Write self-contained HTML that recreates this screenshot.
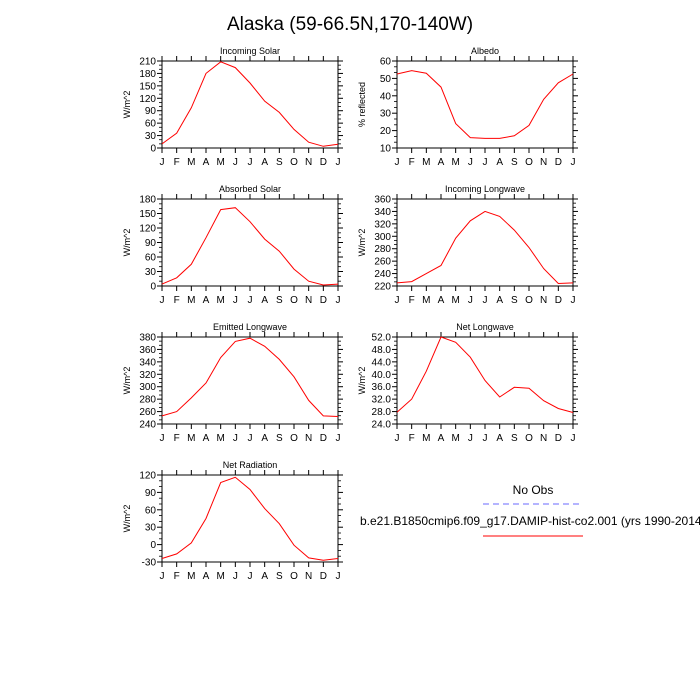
<!DOCTYPE html>
<html><head><meta charset="utf-8"><style>
body{margin:0;background:#fff;}
svg{display:block;font-family:"Liberation Sans",sans-serif;}
</style></head><body>
<svg id="chart" width="700" height="700" viewBox="0 0 700 700">
<text x="350" y="30" font-size="19" text-anchor="middle">Alaska (59-66.5N,170-140W)</text>
<g>
<text x="533" y="494" font-size="12" text-anchor="middle">No Obs</text>
<line x1="483" y1="504" x2="583" y2="504" stroke="#6a6aff" stroke-dasharray="6,4"/>
<text x="360" y="525" font-size="12">b.e21.B1850cmip6.f09_g17.DAMIP-hist-co2.001 (yrs 1990-2014)</text>
<line x1="483" y1="536" x2="583" y2="536" stroke="#f00"/>
</g>
</svg>
<script>
const months = ["J","F","M","A","M","J","J","A","S","O","N","D","J"];
const incomingSolar = [10,36,97,180,208,194,157,113,86,45,14,4,9];
const albedo = [52.5,54.5,53,45,24,16,15.5,15.5,17,23,38,47.5,52.5];
const absorbedSolar = [4,17,45,100,158,162,133,97,72,35,10,2,4];
const incomingLW = [225,227,240,253,297,325,340,332,310,282,248,224,225];
const emittedLW = [253,260,282,306,347,373,378,365,344,316,278,253,252];
const netLW = [27.8,32,41,52,50.3,45.5,38,32.7,35.8,35.5,31.5,29,27.7];
const netRad = [-24,-16,3,45,107,116,95,62,36,-1,-23,-27,-24];
const ticksSolar = [0,30,60,90,120,150,180,210];
const ticksAlbedo = [10,20,30,40,50,60];
const ticksAbs = [0,30,60,90,120,150,180];
const ticksILW = [220,240,260,280,300,320,340,360];
const ticksELW = [240,260,280,300,320,340,360,380];
const ticksNLW = [24,28,32,36,40,44,48,52];
const ticksNR = [-30,0,30,60,90,120];

const NS="http://www.w3.org/2000/svg";
const svg=document.getElementById('chart');
function mk(tag,attrs,parent){const e=document.createElementNS(NS,tag);for(const k in attrs)e.setAttribute(k,attrs[k]);parent.appendChild(e);return e;}

const panels=[
 {name:'incoming-solar',title:'Incoming Solar',yl:'W/m^2',data:incomingSolar,ticks:ticksSolar,x:162,y:61,dec:0},
 {name:'albedo',title:'Albedo',yl:'% reflected',data:albedo,ticks:ticksAlbedo,x:397,y:61,dec:0},
 {name:'absorbed-solar',title:'Absorbed Solar',yl:'W/m^2',data:absorbedSolar,ticks:ticksAbs,x:162,y:199,dec:0},
 {name:'incoming-longwave',title:'Incoming Longwave',yl:'W/m^2',data:incomingLW,ticks:ticksILW,x:397,y:199,dec:0},
 {name:'emitted-longwave',title:'Emitted Longwave',yl:'W/m^2',data:emittedLW,ticks:ticksELW,x:162,y:337,dec:0},
 {name:'net-longwave',title:'Net Longwave',yl:'W/m^2',data:netLW,ticks:ticksNLW,x:397,y:337,dec:1},
 {name:'net-radiation',title:'Net Radiation',yl:'W/m^2',data:netRad,ticks:ticksNR,x:162,y:475,dec:0}
];
const W=176,H=87;
panels.forEach(p=>{
 const g=mk('g',{},svg);
 
 
 const ymin=p.ticks[0],ymax=p.ticks[p.ticks.length-1];
 const xs=i=>p.x+i*W/12;
 const ys=v=>p.y+H-(v-ymin)/(ymax-ymin)*H;
 months.forEach((m,i)=>{
  const X=xs(i);
  const t1=mk('line',{x1:X,y1:p.y,x2:X,y2:p.y-5,stroke:'#000','stroke-width':1},g);
  
  
  const t2=mk('line',{x1:X,y1:p.y+H,x2:X,y2:p.y+H+5,stroke:'#000','stroke-width':1},g);
  
  
  const lb=mk('text',{x:X,y:p.y+H+17,'font-size':10,'text-anchor':'middle'},g);
  lb.textContent=m;
  
  
 });
 const step=p.ticks[1]-p.ticks[0];
 p.ticks.forEach((v,k)=>{
  const Y=ys(v);
  const a=mk('line',{x1:p.x-5,y1:Y,x2:p.x,y2:Y,stroke:'#000'},g);
  
  
  const b=mk('line',{x1:p.x+W,y1:Y,x2:p.x+W+5,y2:Y,stroke:'#000'},g);
  
  
  const lb=mk('text',{x:p.x-6,y:Y+3.5,'font-size':10,'text-anchor':'end'},g);
  lb.textContent=v.toFixed(p.dec);
  
  
  if(k<p.ticks.length-1){
   for(let j=1;j<3;j++){
    const Ym=ys(v+step*j/3);
    const c=mk('line',{x1:p.x-3,y1:Ym,x2:p.x,y2:Ym,stroke:'#000','stroke-width':0.8},g);
    
    
    const d=mk('line',{x1:p.x+W,y1:Ym,x2:p.x+W+3,y2:Ym,stroke:'#000','stroke-width':0.8},g);
    
    
   }
  }
 });
 const fr=mk('rect',{x:p.x,y:p.y,width:W,height:H,fill:'none',stroke:'#000','stroke-width':1},g);
 
 
 const pts=p.data.map((v,i)=>xs(i).toFixed(1)+','+ys(v).toFixed(1)).join(' ');
 const pl=mk('polyline',{points:pts,fill:'none',stroke:'#f00','stroke-width':1},g);
 
 
 const tt=mk('text',{x:p.x+W/2,y:p.y-7,'font-size':9,'text-anchor':'middle'},g);
 tt.textContent=p.title;
 
 
 const ylx=p.x-32, yly=p.y+H/2;
 const yl=mk('text',{x:ylx,y:yly,'font-size':9,'text-anchor':'middle',transform:'rotate(-90 '+ylx+' '+yly+')'},g);
 yl.textContent=p.yl;
 
 
});
</script>
</body></html>
